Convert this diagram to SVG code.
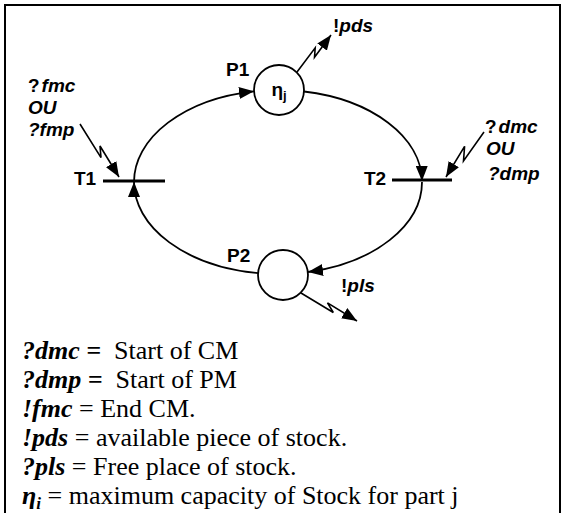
<svg xmlns="http://www.w3.org/2000/svg" width="565" height="513" viewBox="0 0 565 513">
<defs>
<marker id="ah" markerUnits="userSpaceOnUse" markerWidth="15" markerHeight="12" refX="15" refY="6" orient="auto"><path d="M0,0 L15,6 L0,12 z" fill="#000"/></marker>
</defs>
<style>
.lbl{font-family:"Liberation Sans",Arial,sans-serif;font-weight:bold;font-size:19px;fill:#000}
.it{font-style:italic}
.leg{font-family:"Liberation Serif","Times New Roman",serif;font-size:26px;fill:#000}
.b{font-weight:bold;font-style:italic}
.arc{fill:none;stroke:#000;stroke-width:1.8;marker-end:url(#ah)}
.zz{fill:none;stroke:#000;stroke-width:1.6;marker-end:url(#ah)}
.place{fill:#fff;stroke:#000;stroke-width:1.8}
.bar{stroke:#000;stroke-width:3}
</style>
<rect x="5" y="5" width="555" height="530" fill="#fff" stroke="#000" stroke-width="2"/>
<g id="connectors">
<path class="arc" d="M134,182 A144,92 0 0 1 254,91.3"/>
<path class="arc" d="M304,91.5 A144,92 0 0 1 422,181"/>
<path class="arc" d="M422,182 A144,92 0 0 1 308,272"/>
<path class="arc" d="M258,273.1 A144,92 0 0 1 134,182"/>
<path class="zz" d="M80,124 L101,157.6 L100,146 L119,177"/>
<path class="zz" d="M484,132 L463.5,160.9 L464.6,146.3 L446,177"/>
<path class="zz" d="M297,72 L315.2,47.8 L314.5,57.3 L331,35"/>
<path class="zz" d="M301,293 L333.3,312.5 L327.5,302.9 L357,321"/>
</g>
<g id="P1">
<circle class="place" cx="279" cy="90" r="25"/>
<text class="lbl" x="279" y="96" text-anchor="middle" style="font-size:19px">η<tspan style="font-size:13px" dy="4">j</tspan></text>
<text class="lbl" x="226" y="76">P1</text>
</g>
<g id="P2">
<circle class="place" cx="283" cy="275" r="25"/>
<text class="lbl" x="227" y="262">P2</text>
</g>
<g id="T1">
<line class="bar" x1="103" y1="181" x2="165" y2="181"/>
<text class="lbl" x="74" y="185">T1</text>
</g>
<g id="T2">
<line class="bar" x1="392" y1="180" x2="452" y2="180"/>
<text class="lbl" x="364" y="185">T2</text>
</g>
<g id="events">
<text class="lbl" x="333" y="32">!<tspan class="it">pds</tspan></text>
<text class="lbl" x="341" y="292">!<tspan class="it">pls</tspan></text>
<text class="lbl" x="28" y="92">?<tspan class="it" dx="2">fmc</tspan></text>
<text class="lbl it" x="28" y="114">OU</text>
<text class="lbl it" x="28" y="136">?fmp</text>
<text class="lbl" x="485" y="133">?<tspan class="it" dx="2">dmc</tspan></text>
<text class="lbl it" x="486" y="155">OU</text>
<text class="lbl it" x="488" y="180">?dmp</text>
</g>
<g id="legend">
<text class="leg" x="22" y="359"><tspan class="b">?dmc =</tspan>&#160; Start of CM</text>
<text class="leg" x="22" y="388"><tspan class="b">?dmp =</tspan>&#160; Start of PM</text>
<text class="leg" x="22" y="417"><tspan class="b">!fmc</tspan> = End CM.</text>
<text class="leg" x="22" y="446"><tspan class="b">!pds</tspan> = available piece of stock.</text>
<text class="leg" x="22" y="475"><tspan class="b">?pls</tspan> = Free place of stock.</text>
<text class="leg" x="22" y="504"><tspan class="b">η<tspan style="font-size:17px" dy="5">i</tspan></tspan><tspan dy="-5"> = maximum capacity of Stock for part j</tspan></text>
</g>
</svg>
